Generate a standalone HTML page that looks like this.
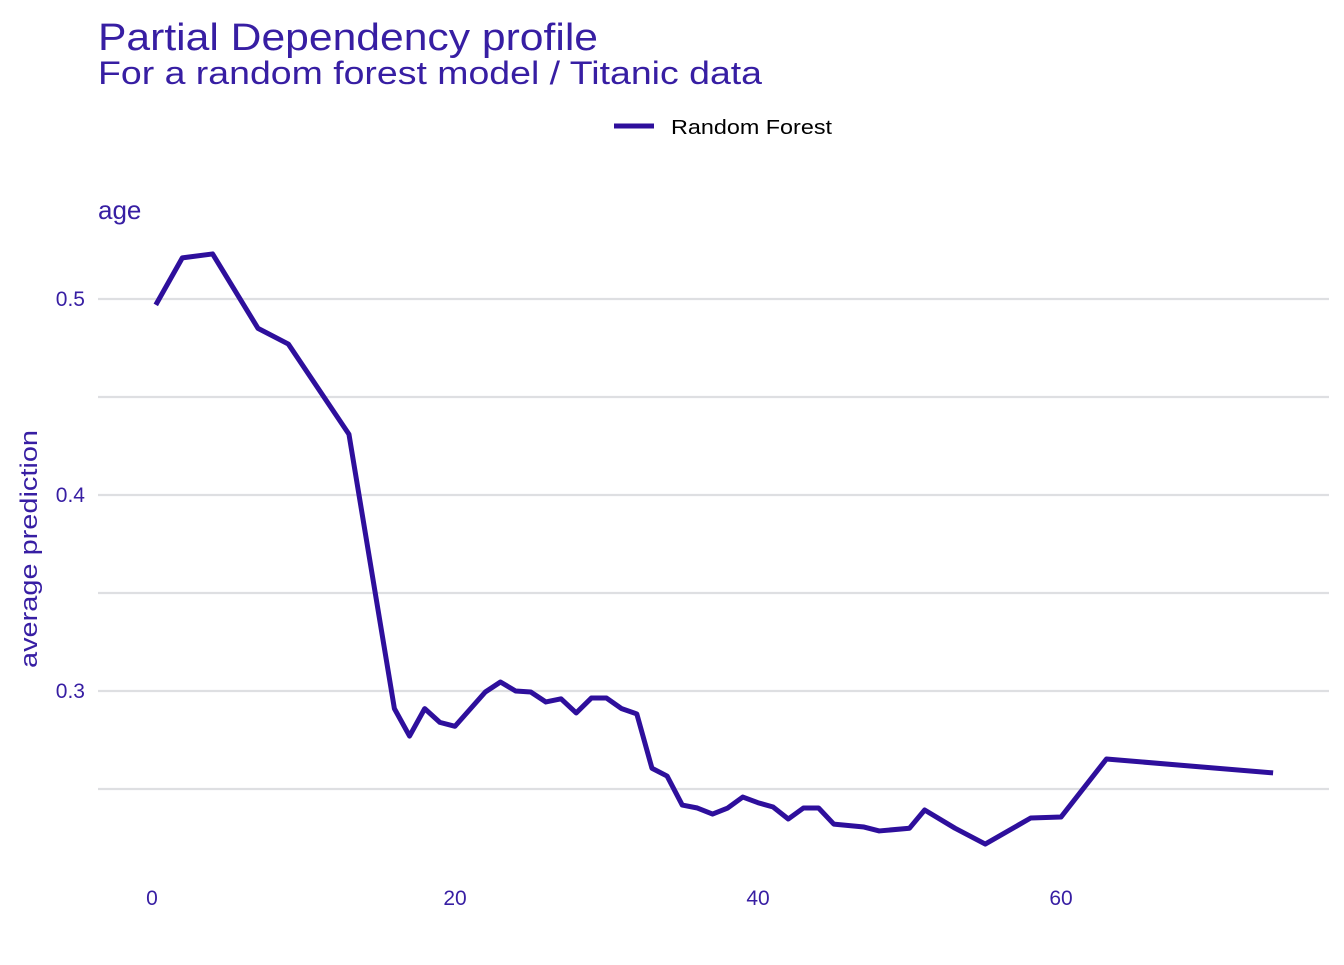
<!DOCTYPE html>
<html><head><meta charset="utf-8"><style>
body{margin:0;background:#fff;}
svg text{font-family:"Liberation Sans",Arial,sans-serif;fill:#371ea3;}
</style></head><body>
<svg id="chart" width="1344" height="960" xmlns="http://www.w3.org/2000/svg">
<text x="98" y="50" font-size="38" textLength="500" lengthAdjust="spacingAndGlyphs">Partial Dependency profile</text>
<text x="98" y="84" font-size="32" textLength="664" lengthAdjust="spacingAndGlyphs">For a random forest model / Titanic data</text>
<g>
<line x1="614" y1="126" x2="654" y2="126" stroke="#2e0f9c" stroke-width="5"/>
<text x="671" y="134" font-size="20" textLength="161" lengthAdjust="spacingAndGlyphs" style="fill:#000">Random Forest</text>
</g>
<text x="98" y="219" font-size="26">age</text>
<text transform="translate(37,549) rotate(-90)" text-anchor="middle" font-size="24" textLength="238" lengthAdjust="spacingAndGlyphs">average prediction</text>
<g id="grid"></g><g id="yticks"></g><g id="xticks"></g><g id="series"></g>
</svg>
<script>
const ages=[0.25,2,4,7,9,13,16,17,18,19,20,22,23,24,25,26,27,28,29,30,31,32,33,34,35,36,37,38,39,40,41,42,43,44,45,47,48,50,51,53,55,58,60,63,74];
const preds=[0.497,0.521,0.523,0.485,0.477,0.431,0.291,0.277,0.291,0.284,0.282,0.2995,0.3046,0.300,0.2995,0.2944,0.296,0.2888,0.2964,0.2964,0.291,0.2883,0.2606,0.2566,0.2418,0.2403,0.2372,0.2403,0.2459,0.243,0.2408,0.2347,0.2403,0.2403,0.2321,0.2306,0.2286,0.230,0.2393,0.230,0.2219,0.2352,0.2357,0.2653,0.2582];
const yTicks=[0.3,0.4,0.5];
const yGrid=[0.25,0.3,0.35,0.4,0.45,0.5];
const xTicks=[0,20,40,60];
const NS="http://www.w3.org/2000/svg";
const sx=v=>152+v*15.15;
const sy=v=>299+(0.5-v)*1960;
const g=document.getElementById('grid');
yGrid.forEach(v=>{const l=document.createElementNS(NS,'line');
l.setAttribute('x1',98);l.setAttribute('x2',1329);l.setAttribute('y1',sy(v));l.setAttribute('y2',sy(v));
l.setAttribute('stroke','#dedfe2');l.setAttribute('stroke-width','2.2');


g.appendChild(l);});
const yt=document.getElementById('yticks');
yTicks.forEach(v=>{const t=document.createElementNS(NS,'text');
t.setAttribute('x',85);t.setAttribute('y',sy(v)+7);t.setAttribute('text-anchor','end');t.setAttribute('font-size','21');
t.textContent=v.toFixed(1);


yt.appendChild(t);});
const xt=document.getElementById('xticks');
xTicks.forEach(v=>{const t=document.createElementNS(NS,'text');
t.setAttribute('x',sx(v));t.setAttribute('y',905);t.setAttribute('text-anchor','middle');t.setAttribute('font-size','21');
t.textContent=v;


xt.appendChild(t);});
const p=document.createElementNS(NS,'polyline');
p.setAttribute('points',ages.map((a,i)=>sx(a)+','+sy(preds[i])).join(' '));
p.setAttribute('fill','none');p.setAttribute('stroke','#2e0f9c');p.setAttribute('stroke-width','5');p.setAttribute('stroke-linejoin','round');


document.getElementById('series').appendChild(p);
</script>
</body></html>
